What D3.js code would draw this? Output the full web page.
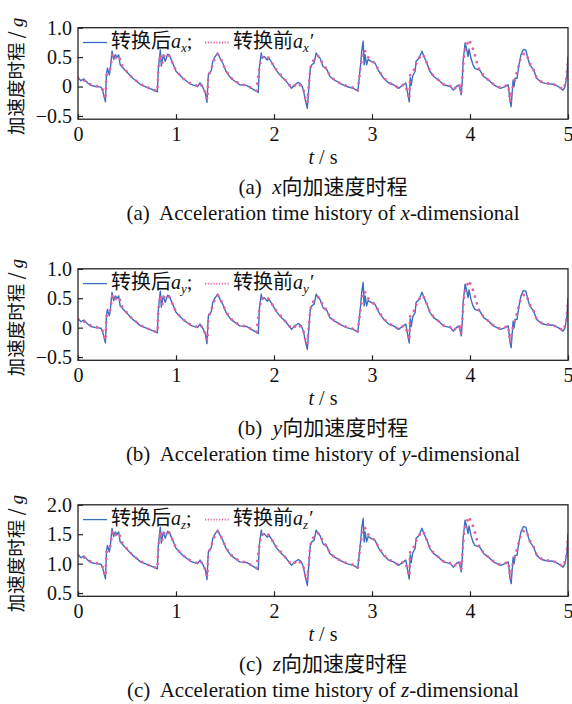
<!DOCTYPE html>
<html><head><meta charset="utf-8">
<script src="https://cdn.jsdelivr.net/npm/d3@7"></script>
<style>
html,body{margin:0;padding:0;background:#fff;}
svg{display:block;}
text{white-space:pre;}
</style>
</head><body>
<svg id="chart" width="572" height="704"></svg>
<script>
// ---- data ----
const tAfter = [
0.00,0.03,0.06,0.10,0.13,0.18,0.235,0.25,0.28,0.29,
0.30,0.32,0.33,0.347,0.364,0.38,0.40,0.415,0.43,0.49,
0.56,0.64,0.73,0.80,0.81,0.82,0.84,0.85,0.87,0.89,
0.915,0.93,0.966,1.00,1.07,1.15,1.22,1.245,1.27,1.30,
1.316,1.33,1.36,1.375,1.40,1.425,1.45,1.476,1.51,1.56,
1.65,1.72,1.77,1.82,1.84,1.85,1.87,1.88,1.90,1.93,
1.95,1.98,2.03,2.07,2.12,2.18,2.21,2.25,2.28,2.30,
2.32,2.34,2.36,2.37,2.385,2.41,2.43,2.45,2.47,2.50,
2.54,2.57,2.62,2.67,2.74,2.81,2.84,2.855,2.88,2.895,
2.91,2.92,2.93,2.945,2.96,3.00,3.03,3.07,3.12,3.17,
3.22,3.27,3.32,3.345,3.36,3.38,3.39,3.40,3.415,3.44,
3.45,3.48,3.51,3.53,3.56,3.59,3.63,3.68,3.73,3.80,
3.83,3.86,3.89,3.91,3.92,3.93,3.95,3.97,3.98,3.99,
4.01,4.03,4.05,4.10,4.14,4.19,4.24,4.31,4.36,4.39,
4.41,4.42,4.44,4.45,4.46,4.48,4.50,4.52,4.545,4.57,
4.59,4.61,4.65,4.68,4.73,4.78,4.85,4.90,4.95,4.97,
4.99,5.00];

const axAfter = [
0.15,0.10,0.13,0.06,0.02,0.00,-0.01,-0.06,-0.26,0.20,
0.31,0.20,0.30,0.60,0.46,0.54,0.50,0.54,0.37,0.26,
0.14,0.03,-0.03,-0.08,-0.09,0.31,0.62,0.35,0.54,0.43,
0.55,0.54,0.40,0.26,0.14,0.04,0.00,0.06,0.00,-0.11,
-0.27,0.20,0.27,0.43,0.51,0.57,0.48,0.40,0.26,0.14,
0.03,0.02,-0.03,-0.08,-0.10,0.31,0.57,0.48,0.51,0.45,
0.48,0.40,0.26,0.18,0.10,-0.03,0.03,0.07,0.03,-0.06,
-0.23,-0.37,0.09,0.31,0.37,0.40,0.57,0.51,0.48,0.34,
0.29,0.17,0.11,0.06,0.00,-0.03,-0.06,-0.08,0.31,0.60,
0.77,0.37,0.54,0.37,0.46,0.42,0.40,0.26,0.14,0.06,
0.03,-0.03,0.03,0.06,-0.08,-0.26,0.15,0.02,0.18,0.26,
0.43,0.48,0.60,0.51,0.40,0.26,0.17,0.11,0.03,0.00,
-0.06,0.00,0.03,-0.14,0.06,0.43,0.74,0.60,0.51,0.64,
0.48,0.37,0.31,0.28,0.17,0.11,0.03,-0.03,0.00,0.03,
-0.26,-0.34,0.11,0.00,0.14,0.14,0.37,0.54,0.63,0.62,
0.48,0.37,0.28,0.14,0.07,0.05,0.04,0.00,-0.06,0.00,
0.20,0.51];

const ayAfter = [
0.15,0.10,0.13,0.06,0.02,0.00,-0.01,-0.06,-0.26,0.20,
0.31,0.20,0.30,0.60,0.46,0.54,0.50,0.54,0.37,0.26,
0.14,0.03,-0.03,-0.08,-0.09,0.31,0.62,0.35,0.54,0.43,
0.55,0.54,0.40,0.26,0.14,0.04,0.00,0.06,0.00,-0.11,
-0.27,0.20,0.27,0.43,0.51,0.57,0.48,0.40,0.26,0.14,
0.03,0.02,-0.03,-0.08,-0.10,0.31,0.57,0.48,0.51,0.45,
0.48,0.40,0.26,0.18,0.10,-0.03,0.03,0.07,0.03,-0.06,
-0.23,-0.37,0.09,0.31,0.37,0.40,0.57,0.51,0.48,0.34,
0.29,0.17,0.11,0.06,0.00,-0.03,-0.06,-0.08,0.31,0.60,
0.77,0.37,0.54,0.37,0.46,0.42,0.40,0.26,0.14,0.06,
0.03,-0.03,0.03,0.06,-0.08,-0.26,0.15,0.02,0.18,0.26,
0.43,0.48,0.60,0.51,0.40,0.26,0.17,0.11,0.03,0.00,
-0.06,0.00,0.03,-0.14,0.06,0.43,0.74,0.60,0.51,0.64,
0.48,0.37,0.31,0.28,0.17,0.11,0.03,-0.03,0.00,0.03,
-0.26,-0.34,0.11,0.00,0.14,0.14,0.37,0.54,0.63,0.62,
0.48,0.37,0.28,0.14,0.07,0.05,0.04,0.00,-0.06,0.00,
0.20,0.51];

const azAfter = [
1.15,1.10,1.13,1.06,1.02,1.00,0.99,0.94,0.74,1.20,
1.31,1.20,1.30,1.60,1.46,1.54,1.50,1.54,1.37,1.26,
1.14,1.03,0.97,0.92,0.91,1.31,1.62,1.35,1.54,1.43,
1.55,1.54,1.40,1.26,1.14,1.04,1.00,1.06,1.00,0.89,
0.73,1.20,1.27,1.43,1.51,1.57,1.48,1.40,1.26,1.14,
1.03,1.02,0.97,0.92,0.90,1.31,1.57,1.48,1.51,1.45,
1.48,1.40,1.26,1.18,1.10,0.97,1.03,1.07,1.03,0.94,
0.77,0.63,1.09,1.31,1.37,1.40,1.57,1.51,1.48,1.34,
1.29,1.17,1.11,1.06,1.00,0.97,0.94,0.92,1.31,1.60,
1.77,1.37,1.54,1.37,1.46,1.42,1.40,1.26,1.14,1.06,
1.03,0.97,1.03,1.06,0.92,0.74,1.15,1.02,1.18,1.26,
1.43,1.48,1.60,1.51,1.40,1.26,1.17,1.11,1.03,1.00,
0.94,1.00,1.03,0.86,1.06,1.43,1.74,1.60,1.51,1.64,
1.48,1.37,1.31,1.28,1.17,1.11,1.03,0.97,1.00,1.03,
0.74,0.66,1.11,1.00,1.14,1.14,1.37,1.54,1.63,1.62,
1.48,1.37,1.28,1.14,1.07,1.05,1.04,1.00,0.94,1.00,
1.20,1.51];

const tBefore = [
0.00,0.05,0.10,0.15,0.22,0.25,0.28,0.29,0.31,0.33,
0.35,0.37,0.40,0.42,0.45,0.50,0.56,0.64,0.73,0.81,
0.82,0.84,0.86,0.88,0.92,0.96,1.00,1.07,1.15,1.22,
1.25,1.30,1.32,1.33,1.36,1.40,1.43,1.46,1.51,1.56,
1.65,1.72,1.82,1.85,1.87,1.90,1.93,1.98,2.03,2.08,
2.12,2.18,2.25,2.30,2.32,2.34,2.36,2.37,2.39,2.42,
2.45,2.48,2.50,2.54,2.57,2.62,2.67,2.74,2.81,2.855,
2.88,2.90,2.92,2.94,2.96,3.00,3.03,3.07,3.12,3.17,
3.22,3.27,3.33,3.36,3.38,3.39,3.41,3.44,3.46,3.49,
3.51,3.54,3.56,3.59,3.63,3.68,3.73,3.80,3.83,3.89,
3.91,3.92,3.94,3.96,3.99,4.03,4.06,4.08,4.12,4.14,
4.19,4.24,4.31,4.36,4.39,4.41,4.43,4.46,4.50,4.52,
4.55,4.58,4.60,4.65,4.68,4.73,4.78,4.85,4.90,4.95,
4.98,5.00];

const axBefore = [
0.15,0.12,0.06,0.02,0.00,-0.05,-0.22,0.18,0.28,0.30,
0.55,0.48,0.50,0.52,0.36,0.25,0.14,0.04,-0.03,-0.08,
0.28,0.55,0.40,0.52,0.56,0.42,0.27,0.14,0.05,0.01,
0.05,-0.10,-0.22,0.18,0.30,0.50,0.55,0.46,0.27,0.15,
0.04,0.02,-0.07,0.30,0.50,0.50,0.52,0.40,0.27,0.18,
0.10,-0.02,0.06,-0.05,-0.20,-0.28,0.10,0.30,0.43,0.46,
0.52,0.46,0.36,0.30,0.18,0.11,0.06,0.01,-0.02,-0.07,
0.28,0.52,0.62,0.58,0.50,0.43,0.40,0.27,0.15,0.07,
0.03,-0.02,0.04,-0.07,-0.22,0.22,0.26,0.30,0.45,0.50,
0.55,0.50,0.40,0.27,0.18,0.11,0.04,0.01,-0.05,0.03,
-0.10,0.10,0.55,0.68,0.80,0.64,0.48,0.33,0.24,0.17,
0.11,0.04,-0.02,0.01,0.03,-0.26,-0.05,0.13,0.37,0.50,
0.56,0.55,0.42,0.28,0.15,0.08,0.06,0.04,0.01,-0.05,
0.08,0.45];

const ayBefore = [
0.15,0.12,0.06,0.02,0.00,-0.05,-0.22,0.18,0.28,0.30,
0.55,0.48,0.50,0.52,0.36,0.25,0.14,0.04,-0.03,-0.08,
0.28,0.55,0.40,0.52,0.56,0.42,0.27,0.14,0.05,0.01,
0.05,-0.10,-0.22,0.18,0.30,0.50,0.55,0.46,0.27,0.15,
0.04,0.02,-0.07,0.30,0.50,0.50,0.52,0.40,0.27,0.18,
0.10,-0.02,0.06,-0.05,-0.20,-0.28,0.10,0.30,0.43,0.46,
0.52,0.46,0.36,0.30,0.18,0.11,0.06,0.01,-0.02,-0.07,
0.28,0.52,0.62,0.58,0.50,0.43,0.40,0.27,0.15,0.07,
0.03,-0.02,0.04,-0.07,-0.22,0.22,0.26,0.30,0.45,0.50,
0.55,0.50,0.40,0.27,0.18,0.11,0.04,0.01,-0.05,0.03,
-0.10,0.10,0.55,0.68,0.80,0.64,0.48,0.33,0.24,0.17,
0.11,0.04,-0.02,0.01,0.03,-0.26,-0.05,0.13,0.37,0.50,
0.56,0.55,0.42,0.28,0.15,0.08,0.06,0.04,0.01,-0.05,
0.08,0.45];

const azBefore = [
1.15,1.12,1.06,1.02,1.00,0.95,0.78,1.18,1.28,1.30,
1.55,1.48,1.50,1.52,1.36,1.25,1.14,1.04,0.97,0.92,
1.28,1.55,1.40,1.52,1.56,1.42,1.27,1.14,1.05,1.01,
1.05,0.90,0.78,1.18,1.30,1.50,1.55,1.46,1.27,1.15,
1.04,1.02,0.93,1.30,1.50,1.50,1.52,1.40,1.27,1.18,
1.10,0.98,1.06,0.95,0.80,0.72,1.10,1.30,1.43,1.46,
1.52,1.46,1.36,1.30,1.18,1.11,1.06,1.01,0.98,0.93,
1.28,1.52,1.62,1.58,1.50,1.43,1.40,1.27,1.15,1.07,
1.03,0.98,1.04,0.93,0.78,1.22,1.26,1.30,1.45,1.50,
1.55,1.50,1.40,1.27,1.18,1.11,1.04,1.01,0.95,1.03,
0.90,1.10,1.55,1.68,1.80,1.64,1.48,1.33,1.24,1.17,
1.11,1.04,0.98,1.01,1.03,0.74,0.95,1.13,1.37,1.50,
1.56,1.55,1.42,1.28,1.15,1.08,1.06,1.04,1.01,0.95,
1.08,1.45];

const xTicks = [0,1,2,3,4,5];
const xTickLabels = ["0","1","2","3","4","5"];
const yTicksXY = [-0.5,0,0.5,1.0];
const yTickLabelsXY = ["\u22120.5","0","0.5","1.0"];
const yTicksZ = [0.5,1.0,1.5,2.0];
const yTickLabelsZ = ["0.5","1.0","1.5","2.0"];
const yDomainXY = [-0.555,1.0];
const yDomainZ = [0.445,2.0];
const axisSubs = ["x","y","z"];
const panelLetters = ["(a)","(b)","(c)"];
const captionCN = ["向加速度时程","向加速度时程","向加速度时程"];
const captionEN = ["-dimensional","-dimensional","-dimensional"];
const legendAfter = "转换后";
const legendBefore = "转换前";
const yLabel = "加速度时程 / ";
const xLabel = " / s";

// ---- drawing ----
const svg = d3.select("#chart");
const SERIF = "'Liberation Serif','Times New Roman',serif";
const CJK = "'Noto Sans CJK SC','Liberation Serif',sans-serif";
const MIX = "'Liberation Serif','Noto Sans CJK SC',serif";
const BLUE = "#3b6dc2";
const PINK = "#e2619f";
const left = 78, right = 568, ph = 91.5;
const tops = [27.7, 268.8, 504.8];

const x = d3.scaleLinear().domain([0,5]).range([left,right]);

const panels = [
  {after: axAfter, before: axBefore, dom: yDomainXY, ticks: yTicksXY, labels: yTickLabelsXY},
  {after: ayAfter, before: ayBefore, dom: yDomainXY, ticks: yTicksXY, labels: yTickLabelsXY},
  {after: azAfter, before: azBefore, dom: yDomainZ, ticks: yTicksZ, labels: yTickLabelsZ}
];

panels.forEach((p, i) => {
  const top = tops[i];
  const y = d3.scaleLinear().domain(p.dom).range([top+ph, top]);
  const g = svg.append("g");

  const clipId = "clip"+i;
  svg.append("clipPath").attr("id", clipId).append("rect")
    .attr("x", left).attr("y", top).attr("width", right-left).attr("height", ph);

  const line = d3.line().x(d => x(d[0])).y(d => y(d[1]));
  const afterData = tAfter.map((t,k) => [t, p.after[k]]);
  const beforeData = tBefore.map((t,k) => [t, p.before[k]]);

  const plot = g.append("g").attr("clip-path", `url(#${clipId})`);
  plot.append("path").datum(afterData).attr("d", line)
    .attr("fill","none").attr("stroke",BLUE).attr("stroke-width",1.4).attr("stroke-linejoin","round");
  plot.append("path").datum(beforeData).attr("d", line)
    .attr("fill","none").attr("stroke",PINK).attr("stroke-width",2.8)
    .attr("stroke-linecap","round").attr("stroke-dasharray","0.01,7");

  // axes
  const xa = g.append("g").attr("transform",`translate(0,${top+ph})`)
    .call(d3.axisBottom(x).tickValues(xTicks).tickFormat((d,k)=>xTickLabels[k]).tickSizeInner(-5).tickSizeOuter(0).tickPadding(8));
  const ya = g.append("g").attr("transform",`translate(${left},0)`)
    .call(d3.axisLeft(y).tickValues(p.ticks).tickFormat((d,k)=>p.labels[k]).tickSizeInner(-5).tickSizeOuter(0).tickPadding(6));
  [xa, ya].forEach(a => {
    a.select(".domain").remove();
    a.selectAll("line").attr("stroke","#222").attr("stroke-width",1.2);
    a.selectAll("text").attr("font-family",SERIF).attr("font-size",20).attr("fill","#111");
  });

  // frame
  g.append("rect").attr("x",left).attr("y",top).attr("width",right-left).attr("height",ph)
    .attr("fill","none").attr("stroke","#222").attr("stroke-width",1.3);

  // legend
  const ly = top + 14.8;
  g.append("line").attr("x1",83).attr("x2",107).attr("y1",ly).attr("y2",ly)
    .attr("stroke",BLUE).attr("stroke-width",1.3);
  const t1 = g.append("text").attr("x",111).attr("y",top+20.5).attr("font-size",20).attr("fill","#111");
  t1.append("tspan").attr("font-family",CJK).text(legendAfter);
  t1.append("tspan").attr("font-family",SERIF).attr("font-style","italic").text("a");
  t1.append("tspan").attr("font-family",SERIF).attr("font-style","italic").attr("font-size",13).attr("dy",4).text(axisSubs[i]);
  t1.append("tspan").attr("font-family",SERIF).attr("dy",-4).text(";");

  g.append("line").attr("x1",205).attr("x2",230).attr("y1",ly).attr("y2",ly)
    .attr("stroke",PINK).attr("stroke-width",1.8).attr("stroke-dasharray","1.2,1.6");
  const t2 = g.append("text").attr("x",233).attr("y",top+20.5).attr("font-size",20).attr("fill","#111");
  t2.append("tspan").attr("font-family",CJK).text(legendBefore);
  t2.append("tspan").attr("font-family",SERIF).attr("font-style","italic").text("a");
  t2.append("tspan").attr("font-family",SERIF).attr("font-style","italic").attr("font-size",13).attr("dy",4).text(axisSubs[i]);
  t2.append("tspan").attr("font-family",SERIF).attr("font-style","italic").attr("dy",-4).text("\u2032");

  // y label
  const yl = g.append("text").attr("transform",`translate(23,${top+ph/2+3}) rotate(-90)`)
    .attr("text-anchor","middle").attr("font-size",18.5).attr("fill","#111");
  yl.append("tspan").attr("font-family",CJK).text(yLabel);
  yl.append("tspan").attr("font-family",SERIF).attr("font-style","italic").text("g");

  // x label
  const xl = g.append("text").attr("x",(left+right)/2).attr("y",top+136).attr("text-anchor","middle")
    .attr("font-family",SERIF).attr("font-size",20).attr("fill","#111");
  xl.append("tspan").attr("font-style","italic").text("t");
  xl.append("tspan").text(xLabel);

  // captions
  const c1 = g.append("text").attr("x",(left+right)/2).attr("y",top+166).attr("text-anchor","middle")
    .attr("font-family",MIX).attr("font-size",21).attr("fill","#111");
  c1.append("tspan").text(panelLetters[i]+"  ");
  c1.append("tspan").attr("font-style","italic").text(axisSubs[i]);
  c1.append("tspan").attr("font-family",CJK).text(captionCN[i]);

  const c2 = g.append("text").attr("x",(left+right)/2).attr("y",top+192).attr("text-anchor","middle")
    .attr("font-family",SERIF).attr("font-size",21).attr("fill","#111");
  c2.append("tspan").text(panelLetters[i]+"  Acceleration time history of ");
  c2.append("tspan").attr("font-style","italic").text(axisSubs[i]);
  c2.append("tspan").text(captionEN[i]);
});
</script>
</body></html>
